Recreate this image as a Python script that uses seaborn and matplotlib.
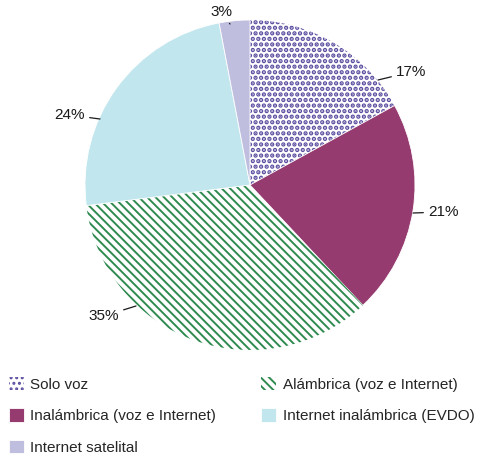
import matplotlib
matplotlib.use("Agg")
import matplotlib.pyplot as plt
import seaborn as sns

# Datos
categorias = ["Solo voz", "Inalámbrica (voz e Internet)", "Alámbrica (voz e Internet)",
              "Internet inalámbrica (EVDO)", "Internet satelital"]
porcentajes = [17, 21, 35, 24, 3]
colores = ["#5a4c9f", "#953b6f", "#2f8a50", "#c2e6ee", "#c0bedf"]
tramas = ["...", None, "\\\\\\\\", None, None]

# Posicion de las etiquetas (pixeles de la imagen) y del extremo de la linea guia
pos_texto = [(396, 72), (428, 212), (119, 316), (85, 115), (232, 12)]
alineacion = ["left", "left", "right", "right", "right"]
pos_linea = [(378, 80), (413, 213), (136, 306), (100, 119), (230, 24)]

sns.set_style("white")
plt.rcParams["font.family"] = ["Liberation Sans", "DejaVu Sans"]
plt.rcParams["hatch.linewidth"] = 1.4

fig = plt.figure(figsize=(4.81, 4.59), dpi=100)
cx, cy, r = 250, 185, 165
pad = 1.05
ax = fig.add_axes([(cx - r * pad) / 481, (459 - cy - r * pad) / 459,
                   2 * r * pad / 481, 2 * r * pad / 459])

wedges, _ = ax.pie(porcentajes, startangle=90, counterclock=False, radius=1)
for w, c, h in zip(wedges, colores, tramas):
    if h:
        w.set_facecolor("white")
        w.set_edgecolor(c)
        w.set_hatch(h)
        w.set_linewidth(0)
        if h.startswith(".") and hasattr(w, "set_hatch_linewidth"):
            w.set_hatch_linewidth(2.2)
    else:
        w.set_facecolor(c)
        w.set_edgecolor("white")
        w.set_linewidth(0.6)
ax.set_xlim(-pad, pad)
ax.set_ylim(-pad, pad)
ax.set_aspect("auto")
ax.axis("off")


def to_data(p):
    return ((p[0] - cx) / r, (cy - p[1]) / r)


for val, t, ha, l in zip(porcentajes, pos_texto, alineacion, pos_linea):
    ax.annotate(f"{val}%", xy=to_data(l), xytext=to_data(t), ha=ha, va="center",
                fontsize=11, color="#1a1a1a", annotation_clip=False,
                arrowprops=dict(arrowstyle="-", color="#1a1a1a", lw=0.9,
                                shrinkA=1, shrinkB=0))

# Leyenda en dos columnas, orden por filas
orden = [0, 1, 4, 2, 3]
fig.legend([wedges[i] for i in orden], [categorias[i] for i in orden],
           ncol=2, loc="upper left", bbox_to_anchor=(9 / 481, 1 - 377 / 459),
           frameon=False, fontsize=11, handlelength=0.95, handleheight=0.95,
           handletextpad=0.45, columnspacing=2.95, labelspacing=1.08,
           borderpad=0, borderaxespad=0)

fig.savefig("out.png", dpi=100)
